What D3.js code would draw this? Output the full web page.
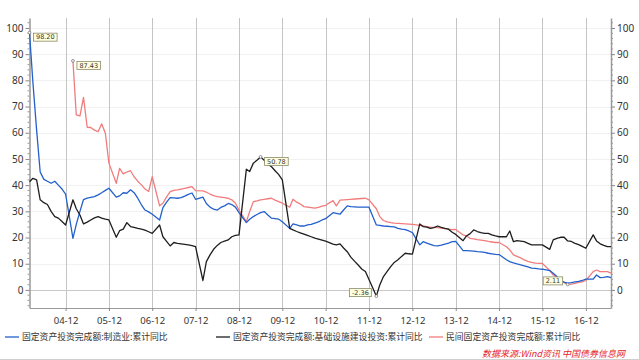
<!DOCTYPE html>
<html><head><meta charset="utf-8">
<script src="https://cdn.jsdelivr.net/npm/d3@7"></script>
<style>
body{margin:0;background:#fff;}
svg{display:block;font-family:"Noto Sans CJK SC","Noto Sans",sans-serif;}
</style>
</head><body>
<svg id="chart" width="640" height="360"></svg>
<script>
// ---------- DATA ----------
const seriesNames = [
  "固定资产投资完成额:制造业:累计同比",
  "固定资产投资完成额:基础设施建设投资:累计同比",
  "民间固定资产投资完成额:累计同比"
];
const firstMonth = "2004-02";      // monthly cumulative data, January not reported
const lastMonth = "2017-07";
const privateFirstMonth = "2005-02";

const manufacturing = [
  98.2, 79, 61, 45, 42.2, 41.5, 40.7, 41.5, 40.0, 38.5, 36.6,           // 2004
  19.7, 25, 30, 34.5, 35.0, 35.3, 35.6, 36.3, 37.1, 38.0, 38.8,         // 2005
  35.4, 35.9, 37.1, 36.9, 38.2, 37.1, 35.0, 32.5, 30.5, 29.8, 28.9,     // 2006
  26.7, 31.4, 33.5, 35.2, 35.1, 35.0, 35.2, 35.8, 36.5, 37.0, 34.6,     // 2007
  35.4, 33.0, 31.6, 30.8, 30.5, 31.5, 32.1, 33.0, 32.6, 31.6, 29.5,     // 2008
  25.7, 27.0, 28.0, 28.8, 29.5, 29.9, 28.6, 27.4, 27.2, 27.0, 26.0,     // 2009
  23.5, 25.2, 24.8, 24.4, 24.4, 24.8, 25.0, 25.5, 26.0, 26.7, 27.2,     // 2010
  29.5, 29.2, 28.9, 30.5, 32.1, 31.8, 31.7, 31.6, 31.6, 31.6, 31.6,     // 2011
  24.8, 24.6, 24.4, 24.3, 24.2, 24.1, 23.5, 23.2, 23.0, 22.5, 21.9,     // 2012
  17.2, 18.4, 17.9, 17.4, 16.9, 16.8, 17.1, 17.5, 17.9, 18.4, 18.5,     // 2013
  15.0, 15.0, 14.9, 14.8, 14.6, 14.5, 14.3, 14.0, 13.8, 13.6, 13.5,     // 2014
  11.5, 10.8, 10.3, 9.9, 9.6, 9.2, 8.8, 8.3, 8.2, 8.0, 7.9,             // 2015
  7.4, 6.4, 5.1, 3.6, 3.0, 2.6, 2.8, 3.1, 3.3, 3.6, 4.1,                // 2016
  4.1, 5.7, 4.7, 4.8, 5.1, 4.7                                           // 2017
];
const infrastructure = [
  41.3, 42.6, 42.0, 34.4, 33.3, 32.6, 30.0, 28.0, 27.4, 26.1, 24.8,     // 2004
  34.4, 31.0, 28.6, 25.2, 25.9, 26.7, 27.5, 28.0, 27.4, 27.0, 26.7,     // 2005
  20.1, 22.6, 23.2, 25.7, 24.2, 23.9, 23.5, 23.2, 22.8, 22.2, 21.6,     // 2006
  24.8, 20.3, 18.5, 16.8, 18.1, 17.8, 17.6, 17.4, 17.2, 16.9, 16.5,     // 2007
  3.6, 10.8, 13.4, 15.5, 17.0, 18.1, 18.6, 19.1, 20.3, 20.8, 21.0,      // 2008
  46.1, 45.2, 48.4, 49.5, 50.78, 49.5, 48.0, 47.0, 45.5, 44.0, 42.0,    // 2009
  23.5, 22.9, 22.3, 21.8, 21.3, 20.8, 20.3, 19.8, 19.4, 19.0, 18.6,     // 2010
  17.5, 17.2, 17.6, 16.0, 14.6, 12.5, 11.0, 9.5, 8.0, 7.0, 4.0,         // 2011
  -2.36, 1.9, 5.1, 7.0, 8.9, 10.5, 11.5, 12.8, 14.0, 13.8, 13.7,        // 2012
  25.2, 24.2, 24.0, 23.5, 23.8, 24.4, 23.9, 23.5, 23.2, 22.0, 21.2,     // 2013
  18.8, 20.6, 21.5, 22.9, 22.3, 21.9, 21.6, 21.6, 21.0, 20.6, 20.3,     // 2014
  20.3, 22.5, 18.4, 18.8, 18.6, 18.4, 17.8, 17.2, 17.2, 17.2, 17.2,     // 2015
  15.5, 19.1, 19.7, 20.1, 20.1, 18.7, 18.5, 17.8, 17.3, 16.6, 15.9,     // 2016
  21.0, 18.7, 17.6, 17.0, 16.5, 16.5                                     // 2017
];
const privateInvestment = [
  87.43, 66.8, 66.4, 73.5, 62.1, 62.0, 61.0, 60.4, 63.4, 59.8, 48.4,    // 2005
  40.7, 46.4, 44.3, 45.0, 45.5, 43.2, 41.5, 40.1, 38.5, 37.6, 43.2,     // 2006
  32.1, 33.1, 35.5, 37.5, 38.0, 38.2, 38.5, 38.8, 39.1, 39.4, 37.9,     // 2007
  37.8, 37.3, 36.6, 36.0, 35.6, 35.4, 35.2, 35.0, 34.4, 33.1, 30.5,     // 2008
  26.1, 29.9, 33.7, 34.0, 34.4, 34.6, 34.8, 35.0, 34.3, 33.7, 33.1,     // 2009
  31.6, 34.6, 33.5, 32.8, 31.8, 31.6, 31.4, 31.2, 31.5, 32.0, 32.3,     // 2010
  34.1, 32.1, 34.3, 34.4, 34.5, 34.6, 34.7, 34.8, 34.9, 35.0, 34.4,     // 2011
  31.0, 28.0, 26.5, 26.0, 25.7, 25.5, 25.4, 25.3, 25.2, 25.1, 25.0,     // 2012
  24.6, 24.4, 24.2, 24.0, 23.9, 23.8, 23.6, 23.4, 23.2, 23.0, 23.1,     // 2013
  21.0, 20.6, 19.7, 19.5, 19.2, 19.0, 18.8, 18.5, 18.3, 18.1, 18.1,     // 2014
  16.5, 15.3, 13.4, 12.8, 12.2, 11.5, 10.9, 10.5, 10.2, 10.1, 10.1,     // 2015
  7.4, 5.7, 5.0, 3.8, 2.8, 2.11, 2.2, 2.5, 2.9, 3.1, 3.6,               // 2016
  7.0, 7.6, 7.0, 7.0, 7.0, 6.4                                           // 2017
];
const xTickLabels = ["04-12","05-12","06-12","07-12","08-12","09-12","10-12","11-12","12-12","13-12","14-12","15-12","16-12"];
const yTicks = [0,10,20,30,40,50,60,70,80,90,100];
const annotations = [
  {series: 0, month: "2004-02", text: "98.20", side: "right"},
  {series: 2, month: "2005-02", text: "87.43", side: "right"},
  {series: 1, month: "2009-06", text: "50.78", side: "right"},
  {series: 1, month: "2012-02", text: "-2.36", side: "left"},
  {series: 2, month: "2016-07", text: "2.11", side: "left"}
];
const sourceText = "数据来源:Wind资讯 中国债券信息网";

// ---------- BUILD ----------
const parseM = d3.timeParse("%Y-%m");
function monthsFrom(start, count) {
  const out = [];
  let d = parseM(start);
  while (out.length < count) {
    if (d.getMonth() !== 0) out.push(d);
    d = d3.timeMonth.offset(d, 1);
  }
  return out;
}
const colors = ["#2360cc", "#1e1e1e", "#f27c7c"];
const seriesData = [
  monthsFrom(firstMonth, manufacturing.length).map((d,i)=>({date:d, v:manufacturing[i]})),
  monthsFrom(firstMonth, infrastructure.length).map((d,i)=>({date:d, v:infrastructure[i]})),
  monthsFrom(privateFirstMonth, privateInvestment.length).map((d,i)=>({date:d, v:privateInvestment[i]}))
];

const svg = d3.select("#chart");
const L = 29.5, R = 611, T = 18, B = 308;

const x = d3.scaleTime().domain([parseM(firstMonth), parseM(lastMonth)]).range([L, R]);
const y = d3.scaleLinear().domain([-6.9, 103.8]).range([B, T]);

// faint horizontal grid
svg.append("g").selectAll("line").data(yTicks.filter(v=>v!==0)).join("line")
  .attr("x1", L).attr("x2", R).attr("y1", d=>Math.round(y(d))+0.5).attr("y2", d=>Math.round(y(d))+0.5)
  .attr("stroke", "#f1f1f1").attr("stroke-width", 1);

// vertical grid at year ends
const xTickDates = xTickLabels.map(s => d3.timeParse("%y-%m")(s));
svg.append("g").selectAll("line").data(xTickDates).join("line")
  .attr("x1", d=>Math.round(x(d))+0.5).attr("x2", d=>Math.round(x(d))+0.5)
  .attr("y1", T).attr("y2", B)
  .attr("stroke", "#c4c4c4").attr("stroke-width", 1);

// zero line
svg.append("line").attr("x1", L).attr("x2", R)
  .attr("y1", Math.round(y(0))+0.5).attr("y2", Math.round(y(0))+0.5)
  .attr("stroke", "#c8c8c8").attr("stroke-width", 1);

// axes
const minorTicks = d3.range(-6, 104, 2).filter(v => v % 10 !== 0);
function styleAxis(g) {
  g.select(".domain").attr("stroke", "#9a9a9a").attr("stroke-width", 1.5);
  g.selectAll(".tick line").attr("stroke", "#888");
  g.selectAll(".tick text").attr("fill", "#333").attr("font-size", "10px")
    .attr("font-family", "'Noto Sans','DejaVu Sans',sans-serif");
}
const yLeft = svg.append("g").attr("transform", `translate(${L},0)`)
  .call(d3.axisLeft(y).tickValues(yTicks).tickSize(4).tickPadding(2).tickSizeOuter(0));
styleAxis(yLeft);
yLeft.append("g").selectAll("line").data(minorTicks).join("line")
  .attr("x1", -2).attr("x2", 0).attr("y1", d=>y(d)).attr("y2", d=>y(d)).attr("stroke", "#999");
const yRight = svg.append("g").attr("transform", `translate(${R},0)`)
  .call(d3.axisRight(y).tickValues(yTicks).tickSize(4).tickPadding(2).tickSizeOuter(0));
styleAxis(yRight);
yRight.append("g").selectAll("line").data(minorTicks).join("line")
  .attr("x1", 0).attr("x2", 2).attr("y1", d=>y(d)).attr("y2", d=>y(d)).attr("stroke", "#999");

const xAxis = svg.append("g").attr("transform", `translate(0,${B})`)
  .call(d3.axisBottom(x).tickValues(xTickDates).tickFormat(d3.timeFormat("%y-%m")).tickSize(3).tickPadding(6).tickSizeOuter(0));
styleAxis(xAxis);
xAxis.select(".domain").attr("stroke-width", 1);
xAxis.selectAll(".tick text").attr("font-size", "9.5px");

// lines
const line = d3.line().x(d=>x(d.date)).y(d=>y(d.v));
svg.append("g").selectAll("path").data([2,0,1]).join("path")
  .attr("d", i => line(seriesData[i]))
  .attr("fill", "none").attr("stroke", i => colors[i]).attr("stroke-width", 1.3)
  .attr("stroke-linejoin", "round");

// annotations
const ag = svg.append("g");
annotations.forEach(a => {
  const pt = seriesData[a.series].find(d => d3.timeFormat("%Y-%m")(d.date) === a.month);
  const px = x(pt.date), py = y(pt.v);
  ag.append("circle").attr("cx", px).attr("cy", py).attr("r", 1.4)
    .attr("fill", "#fff").attr("stroke", "#666").attr("stroke-width", 0.7);
  const t = ag.append("text").text(a.text).attr("font-size", "6.5px")
    .attr("font-family", "'DejaVu Sans',sans-serif").attr("fill", "#333");
  const w = t.node().getComputedTextLength() + 5, h = 8;
  const bx = a.side === "right" ? px + 4 : px - 5 - w;
  const by = a.side === "right" ? py + 0.5 : py - 7.5;
  ag.insert("rect", "text").attr("x", bx).attr("y", by).attr("width", w).attr("height", h)
    .attr("fill", "#ffffe0").attr("stroke", "#8a8a6a").attr("stroke-width", 0.8);
  t.attr("x", bx + 2.5).attr("y", by + 6.2);
});

// legend
const legendX = [5, 216, 429];
const lg = svg.append("g").attr("transform", "translate(0,337)");
seriesNames.forEach((name, i) => {
  lg.append("line").attr("x1", legendX[i]).attr("x2", legendX[i] + 14).attr("y1", 0).attr("y2", 0)
    .attr("stroke", colors[i]).attr("stroke-width", 1.3);
  lg.append("text").attr("x", legendX[i] + 17).attr("y", 3.2).text(name)
    .attr("font-size", "8.8px").attr("fill", "#333");
});

// source
svg.append("text").attr("x", 625).attr("y", 356.5).attr("text-anchor", "end")
  .attr("font-size", "9px").attr("font-style", "italic").attr("fill", "#e5242b").text(sourceText);

// frame lines
svg.append("line").attr("x1", 0).attr("x2", 640).attr("y1", 359.5).attr("y2", 359.5).attr("stroke", "#cfcfcf");
svg.append("line").attr("x1", 639.5).attr("x2", 639.5).attr("y1", 0).attr("y2", 360).attr("stroke", "#cfcfcf");
</script>
</body></html>
